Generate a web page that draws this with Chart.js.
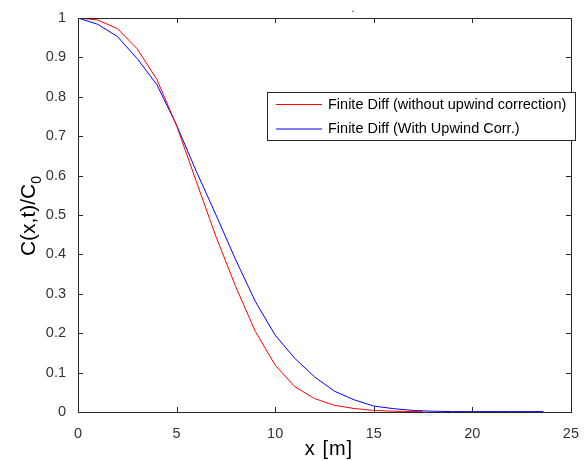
<!DOCTYPE html>
<html>
<head>
<meta charset="utf-8">
<script src="https://cdn.jsdelivr.net/npm/chart.js@4/dist/chart.umd.min.js"></script>
<style>
  html, body { margin: 0; padding: 0; background: #fff; }
  #wrap { width: 584px; height: 461px; }
</style>
</head>
<body>
<div id="wrap"><canvas id="chart"></canvas></div>
<script>
// values
const xRed = [0, 1, 2, 3, 4, 5, 6, 7, 8, 9, 10, 11, 12, 13, 14, 15, 16, 17, 17.5];
const yRed = [1, 0.995, 0.973, 0.922, 0.844, 0.727, 0.585, 0.445, 0.318, 0.204, 0.119, 0.064, 0.034, 0.017, 0.009, 0.004, 0.002, 0.001, 0.001];
const xBlue = [0, 1, 2, 3, 4, 5, 6, 7, 8, 9, 10, 11, 12, 13, 14, 15, 16, 17, 18, 19, 20, 21, 22, 23, 23.6];
const yBlue = [1, 0.984, 0.953, 0.897, 0.831, 0.728, 0.611, 0.5, 0.386, 0.28, 0.195, 0.136, 0.089, 0.053, 0.031, 0.015, 0.0085, 0.004, 0.002, 0.001, 0.001, 0.001, 0.001, 0.001, 0.001];
const labels = ['Finite Diff (without upwind correction)', 'Finite Diff (With Upwind Corr.)'];
const colors = ['#ff0000', '#0000ff'];
const xTicks = [0, 5, 10, 15, 20, 25];
const yTicks = [0, 0.1, 0.2, 0.3, 0.4, 0.5, 0.6, 0.7, 0.8, 0.9, 1];

function toPoints(xs, ys) {
  return xs.map((x, i) => ({ x, y: ys[i] }));
}

const axisColor = '#262626';
const font = 'Liberation Sans, Arial, sans-serif';

// matlab style box, inward ticks, legend and axis labels
const matlabFrame = {
  id: 'matlabFrame',
  afterDraw(chart) {
    const { ctx, chartArea: a, scales } = chart;
    ctx.save();
    ctx.strokeStyle = axisColor;
    ctx.lineWidth = 1;
    ctx.strokeRect(Math.round(a.left) + 0.5, Math.round(a.top) + 0.5,
      Math.round(a.right - a.left), Math.round(a.bottom - a.top));
    const tl = 5;
    ctx.beginPath();
    xTicks.forEach(v => {
      const px = Math.round(scales.x.getPixelForValue(v)) + 0.5;
      ctx.moveTo(px, a.bottom); ctx.lineTo(px, a.bottom - tl);
      ctx.moveTo(px, a.top); ctx.lineTo(px, a.top + tl);
    });
    yTicks.forEach(v => {
      const py = Math.round(scales.y.getPixelForValue(v)) + 0.5;
      ctx.moveTo(a.left, py); ctx.lineTo(a.left + tl, py);
      ctx.moveTo(a.right, py); ctx.lineTo(a.right - tl, py);
    });
    ctx.stroke();

    // legend
    const lx = 267.5, ly = 92.5, lw = 308, lh = 48;
    ctx.fillStyle = '#fff';
    ctx.fillRect(lx, ly, lw, lh);
    ctx.strokeStyle = axisColor;
    ctx.strokeRect(lx, ly, lw, lh);
    ctx.font = '14.5px ' + font;
    ctx.textBaseline = 'middle';
    labels.forEach((t, i) => {
      const y = 104.5 + i * 24.5;
      ctx.strokeStyle = colors[i];
      ctx.beginPath();
      ctx.moveTo(276, y); ctx.lineTo(322, y);
      ctx.stroke();
      ctx.fillStyle = '#000';
      ctx.fillText(t, 328, y);
    });

    // x axis label
    ctx.fillStyle = '#000';
    ctx.font = '20px ' + font;
    ctx.textAlign = 'center';
    ctx.letterSpacing = '1px';
    ctx.fillText('x [m]', 329, 449);
    ctx.letterSpacing = '0px';

    // tiny title
    ctx.font = '11px ' + font;
    ctx.fillText('.', 353, 9);
    ctx.restore();

    // y axis label with subscript
    ctx.save();
    ctx.translate(35, 216);
    ctx.rotate(-Math.PI / 2);
    ctx.fillStyle = '#000';
    ctx.textBaseline = 'alphabetic';
    ctx.textAlign = 'left';
    ctx.font = '21px ' + font;
    const main = 'C(x,t)/C';
    const wMain = ctx.measureText(main).width;
    ctx.font = '14px ' + font;
    const wSub = ctx.measureText('0').width;
    const start = -(wMain + wSub) / 2;
    ctx.font = '21px ' + font;
    ctx.fillText(main, start, 0);
    ctx.font = '14px ' + font;
    ctx.fillText('0', start + wMain, 6);
    ctx.restore();
  }
};

new Chart(document.getElementById('chart'), {
  type: 'line',
  data: {
    datasets: [
      { label: labels[0], data: toPoints(xRed, yRed), borderColor: colors[0] },
      { label: labels[1], data: toPoints(xBlue, yBlue), borderColor: colors[1] },
    ],
  },
  options: {
    responsive: true,
    maintainAspectRatio: false,
    animation: false,
    layout: { padding: { left: 0, right: 8, top: 18, bottom: 0 } },
    elements: {
      line: { borderWidth: 1, tension: 0, fill: false },
      point: { radius: 0 },
    },
    plugins: {
      legend: { display: false },
      tooltip: { enabled: false },
    },
    scales: {
      x: {
        type: 'linear',
        min: 0,
        max: 25,
        afterFit: s => { s.height = 49; },
        afterBuildTicks: s => { s.ticks = xTicks.map(v => ({ value: v })); },
        grid: { display: false },
        border: { display: false },
        ticks: { color: '#333', font: { family: font, size: 14.5 }, padding: 5, maxRotation: 0 },
      },
      y: {
        type: 'linear',
        min: 0,
        max: 1,
        afterFit: s => { s.width = 78; },
        afterBuildTicks: s => { s.ticks = yTicks.map(v => ({ value: v })); },
        grid: { display: false },
        border: { display: false },
        ticks: {
          color: '#333',
          font: { family: font, size: 14.5 },
          padding: 4,
          callback: v => String(Number(v.toFixed(1))),
        },
      },
    },
  },
  plugins: [matlabFrame],
});
</script>
</body>
</html>
